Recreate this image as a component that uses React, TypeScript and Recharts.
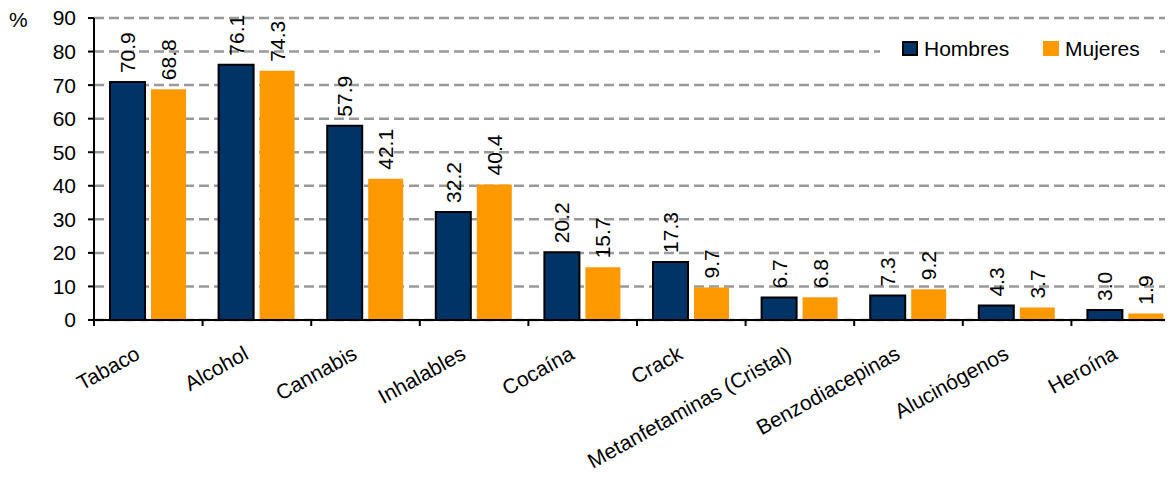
import React from 'react'
import {
  Bar,
  BarChart,
  CartesianGrid,
  Label,
  LabelList,
  Legend,
  XAxis,
  YAxis,
} from 'recharts'

const categories = [
  'Tabaco',
  'Alcohol',
  'Cannabis',
  'Inhalables',
  'Cocaína',
  'Crack',
  'Metanfetaminas (Cristal)',
  'Benzodiacepinas',
  'Alucinógenos',
  'Heroína',
]
const hombres = [70.9, 76.1, 57.9, 32.2, 20.2, 17.3, 6.7, 7.3, 4.3, 3.0]
const mujeres = [68.8, 74.3, 42.1, 40.4, 15.7, 9.7, 6.8, 9.2, 3.7, 1.9]
const yTicks = [0, 10, 20, 30, 40, 50, 60, 70, 80, 90]

const NAVY = '#003366'
const ORANGE = '#FF9900'
const FONT = '"Liberation Sans", Arial, sans-serif'
const FS = 21

const data = categories.map((name, i) => ({
  name,
  hombres: hombres[i],
  mujeres: mujeres[i],
}))

// chart geometry: plot area runs past the right edge like the original
const CHART_W = 1200
const PLOT_LEFT = 94
const PLOT_RIGHT = 1180
const BAND = (PLOT_RIGHT - PLOT_LEFT) / categories.length

const CategoryTick = (props: any) => {
  const { x, y, payload } = props
  const bx = x - BAND / 2
  const tx = x - 7
  const ty = y + 38
  return (
    <g>
      <line x1={bx} y1={y} x2={bx} y2={y + 6} stroke="#000" strokeWidth={2} />
      <text
        x={tx}
        y={ty}
        textAnchor="end"
        fontSize={FS}
        fontFamily={FONT}
        fill="#000"
        transform={`rotate(-29, ${tx}, ${ty})`}
      >
        {payload.value}
      </text>
    </g>
  )
}

const ValueLabel = (props: any) => {
  const { x, y, width, value } = props
  const cx = Number(x) + Number(width) / 2
  const y0 = Number(y) - 9
  return (
    <text
      x={cx}
      y={y0}
      dy="0.36em"
      textAnchor="start"
      fontSize={FS}
      fontFamily={FONT}
      fill="#000"
      transform={`rotate(-90, ${cx}, ${y0})`}
    >
      {Number(value).toFixed(1)}
    </text>
  )
}

const LegendBox = () => (
  <div
    style={{
      position: 'relative',
      width: 280,
      height: 26,
      background: '#fff',
      fontFamily: FONT,
      fontSize: FS,
      color: '#000',
    }}
  >
    <div
      style={{
        position: 'absolute',
        left: 22,
        top: 5,
        width: 16,
        height: 15,
        boxSizing: 'border-box',
        border: '2px solid #000',
        background: NAVY,
      }}
    />
    <span style={{ position: 'absolute', left: 44, top: 0, lineHeight: '26px' }}>Hombres</span>
    <div
      style={{
        position: 'absolute',
        left: 163,
        top: 5,
        width: 16,
        height: 15,
        background: ORANGE,
      }}
    />
    <span style={{ position: 'absolute', left: 185, top: 0, lineHeight: '26px' }}>Mujeres</span>
  </div>
)

export default function App() {
  return (
    <div
      style={{
        margin: -8,
        width: 1173,
        height: 478,
        overflow: 'hidden',
        position: 'relative',
        background: '#fff',
      }}
    >
      <BarChart
        width={CHART_W}
        height={478}
        data={data}
        margin={{ top: 18, right: CHART_W - PLOT_RIGHT, left: 0, bottom: 0 }}
        barCategoryGap={16}
        barGap={6}
      >
        <CartesianGrid
          vertical={false}
          stroke="#999"
          strokeWidth={2.5}
          strokeDasharray="10 5"
        />
        <XAxis
          dataKey="name"
          interval={0}
          height={158}
          tickLine={false}
          tickSize={0}
          tickMargin={0}
          axisLine={{ stroke: '#000', strokeWidth: 2 }}
          tick={<CategoryTick />}
        />
        <YAxis
          width={PLOT_LEFT}
          domain={[0, 90]}
          ticks={yTicks}
          interval={0}
          tickSize={6}
          tickMargin={12}
          axisLine={{ stroke: '#000', strokeWidth: 2 }}
          tickLine={{ stroke: '#000', strokeWidth: 2 }}
          tick={{ fill: '#000', fontSize: FS, fontFamily: FONT }}
        >
          <Label
            content={() => (
              <text x={9} y={27} fontSize={FS} fontFamily={FONT} fill="#000">
                %
              </text>
            )}
          />
        </YAxis>
        <Legend
          layout="horizontal"
          verticalAlign="middle"
          wrapperStyle={{ top: 36, left: 880, width: 280, height: 26 }}
          content={<LegendBox />}
        />
        <Bar
          dataKey="hombres"
          name="Hombres"
          fill={NAVY}
          stroke="#000"
          strokeWidth={2}
          isAnimationActive={false}
        >
          <LabelList dataKey="hombres" content={<ValueLabel />} />
        </Bar>
        <Bar dataKey="mujeres" name="Mujeres" fill={ORANGE} isAnimationActive={false}>
          <LabelList dataKey="mujeres" content={<ValueLabel />} />
        </Bar>
      </BarChart>
    </div>
  )
}
